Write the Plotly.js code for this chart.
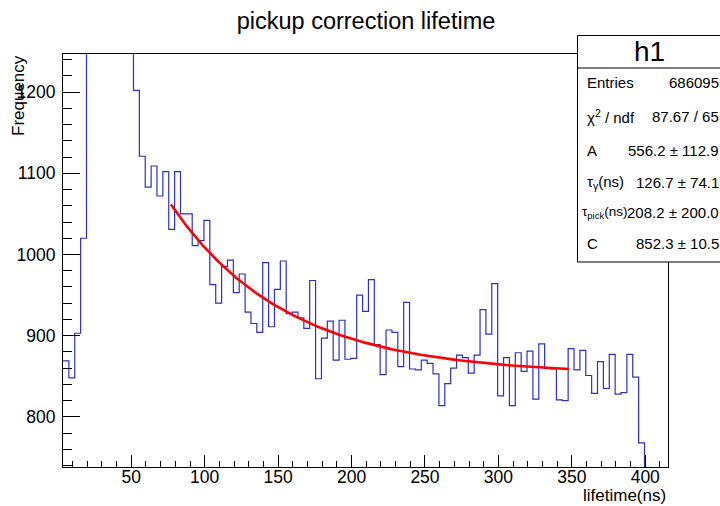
<!DOCTYPE html>
<html>
<head>
<meta charset="utf-8">
<script src="https://cdn.plot.ly/plotly-3.0.1.min.js"></script>
<style>html,body{margin:0;padding:0;background:#fff;overflow:hidden}#chart{width:720px;height:506px}</style>
</head>
<body>
<div id="chart"></div>
<script>
// ---- data ----
const binLow = 3.5;      // low edge of first bin (ns)
const binWidth = 4;      // ns
// counts per bin (bins 19.5-51.5 are above the displayed range; estimated)
const counts = [
  869, 848, 903, 1020,
  1850, 5200, 9600, 10400, 8200, 5300, 3100, 1700,
  1202, 1121, 1083, 1109, 1072, 1102, 1031, 1102, 1050, 1050,
  1011, 1017, 1042, 963, 940, 985, 993, 953, 976, 929,
  915, 904, 990, 911, 957, 992, 927, 929, 922, 909,
  968, 847, 897, 918, 870, 919, 871, 872, 950, 930,
  969, 889, 852, 907, 904, 862, 941, 859, 858, 870,
  866, 853, 814, 841, 860, 876, 873, 854, 876, 932,
  902, 964, 826, 873, 814, 879, 856, 881, 822, 890,
  860, 859, 821, 820, 884, 858, 882, 851, 829, 868,
  835, 877, 828, 830, 877, 849, 768, 0, 0, 0, 0
];
// fit: A*exp(-t/tau_gamma - t/tau_pick) + C
const fitA = 556.2, fitTauGamma = 126.7, fitTauPick = 208.2, fitC = 852.3;
const fitRange = [77, 348];
const statLabels = ["Entries", "χ<sup>2</sup> / ndf", "A", "τ<sub>γ</sub>(ns)", "τ<sub>pick</sub>(ns)", "C"];
const statValues = ["686095", "87.67 / 65", "556.2 ± 112.9", "126.7 ± 74.1", "208.2 ± 200.0", "852.3 ± 10.5"];
const histName = "h1";
const chartTitle = "pickup correction lifetime";
const xTitle = "lifetime(ns)";
const yTitle = "Frequency";

// ---- build traces ----
const hx = [], hy = [];
counts.forEach((c, i) => { hx.push(binLow + i * binWidth); hy.push(c); });
hx.push(binLow + counts.length * binWidth); hy.push(counts[counts.length - 1]);

const fx = [], fy = [];
for (let t = fitRange[0]; t <= fitRange[1] + 1e-9; t += 1) {
  fx.push(t);
  fy.push(fitA * Math.exp(-t / fitTauGamma - t / fitTauPick) + fitC);
}

const FONT = "Liberation Sans, Arial, Helvetica, sans-serif";
const L = 63, R = 668, T = 54, B = 467;
const px = v => (v - L) / (R - L);
const py = v => (B - v) / (B - T);

const traces = [
  {x: hx, y: hy, type: "scatter", mode: "lines", line: {shape: "hv", color: "#2f2fc4", width: 1.2}, hoverinfo: "skip"},
  {x: fx, y: fy, type: "scatter", mode: "lines", line: {color: "#ff0000", width: 2.6}, hoverinfo: "skip"}
];

const annotations = [];
annotations.push({xref: "paper", yref: "paper", x: px(19), y: py(96), text: yTitle, textangle: -90,
  showarrow: false, xanchor: "center", yanchor: "middle", font: {family: FONT, size: 17, color: "#000"}});
annotations.push({xref: "paper", yref: "paper", x: 1, y: py(495), text: xTitle,
  showarrow: false, xanchor: "right", yanchor: "middle", font: {family: FONT, size: 17, color: "#000"}});
annotations.push({xref: "paper", yref: "paper", x: px(649), y: py(52), text: histName,
  showarrow: false, xanchor: "center", yanchor: "middle", font: {family: FONT, size: 28, color: "#000"}});
const rowY = [83, 116, 150, 182, 212, 243];
statLabels.forEach((lab, i) => {
  const isPick = i === 4;
  annotations.push({xref: "paper", yref: "paper", x: px(isPick ? 580 : 585), y: py(rowY[i]), text: lab,
    showarrow: false, xanchor: "left", yanchor: "middle", font: {family: FONT, size: isPick ? 13.5 : 15, color: "#000"}});
  annotations.push({xref: "paper", yref: "paper", x: px(721), y: py(rowY[i]), text: statValues[i],
    showarrow: false, xanchor: "right", yanchor: "middle", font: {family: FONT, size: 15, color: "#000"}});
});

const shapes = [
  {type: "rect", xref: "paper", yref: "paper", x0: px(577.5), x1: px(760), y0: py(262), y1: py(35.5),
   line: {color: "#000", width: 1}, fillcolor: "#fff", layer: "above"},
  {type: "line", xref: "paper", yref: "paper", x0: px(577.5), x1: px(760), y0: py(68), y1: py(68),
   line: {color: "#000", width: 1}, layer: "above"}
];

const axisCommon = {
  showline: true, linecolor: "#000", linewidth: 1, mirror: true, showgrid: false, zeroline: false,
  ticks: "inside", tickcolor: "#000", tickwidth: 1,
  tickfont: {family: FONT, size: 17.5, color: "#000"}
};

const layout = {
  width: 720, height: 506,
  margin: {l: L, r: 720 - R, t: T, b: 506 - B, pad: 0},
  paper_bgcolor: "#fff", plot_bgcolor: "#fff",
  showlegend: false,
  title: {text: chartTitle, font: {family: FONT, size: 23.5, color: "#000"},
    xref: "container", yref: "container", x: 366 / 720, y: 1 - 21 / 506, xanchor: "center", yanchor: "middle"},
  xaxis: Object.assign({}, axisCommon, {
    range: [3.5, 415.5], tick0: 0, dtick: 50, ticklen: 12,
    minor: {ticks: "inside", dtick: 10, tick0: 0, ticklen: 6, tickcolor: "#000", showgrid: false},
    ticklabelstandoff: -6
  }),
  yaxis: Object.assign({}, axisCommon, {
    range: [738.3, 1246.9], tick0: 0, dtick: 100, ticklen: 17,
    minor: {ticks: "inside", dtick: 20, tick0: 0, ticklen: 9, tickcolor: "#000", showgrid: false},
    ticklabelstandoff: 3
  }),
  shapes: shapes,
  annotations: annotations
};

Plotly.newPlot("chart", traces, layout, {staticPlot: true, displayModeBar: false});
</script>
</body>
</html>
